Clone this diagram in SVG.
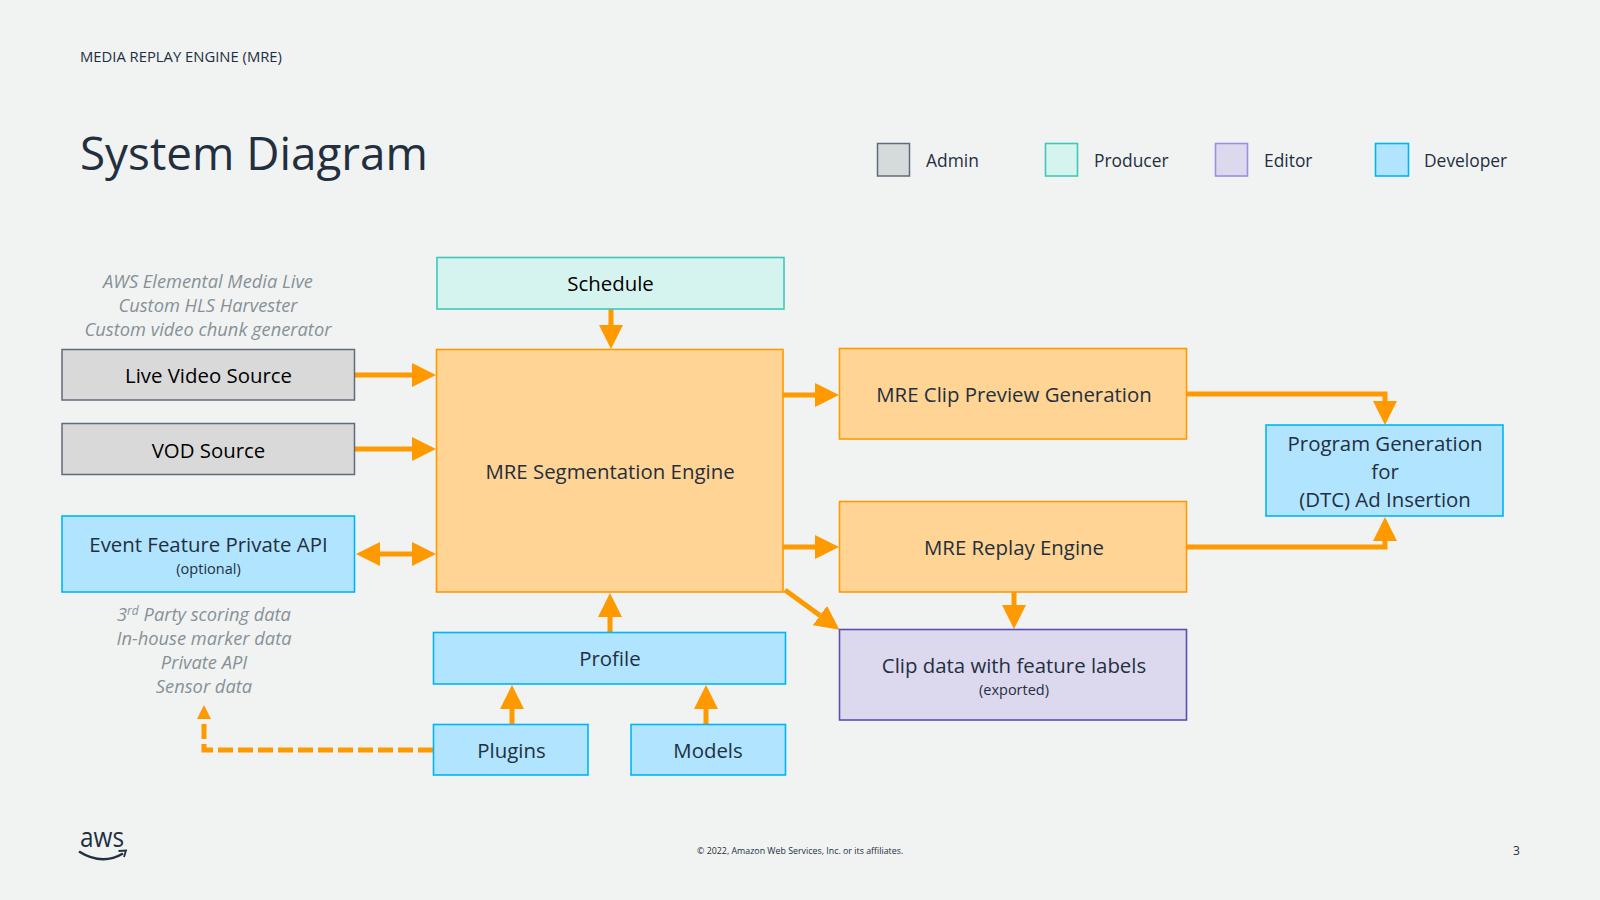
<svg xmlns="http://www.w3.org/2000/svg" width="1600" height="900" viewBox="0 0 1600 900">
<style>
text{font-family:"Open Sans","Noto Sans","Liberation Sans",sans-serif;fill:#232F3E}
.c{text-anchor:middle}
.l{font-size:20.400px}
.k{fill:#000}
.s{font-size:14.500px}
.n{font-size:18.300px;font-style:italic;fill:#879196}
.lg{font-size:17.400px}
.o{fill:#FFD494;stroke:#FF9900;stroke-width:1.600}
.b{fill:#B0E4FF;stroke:#00B5F5;stroke-width:1.600}
.t{fill:#D5F4EF;stroke:#3FC8B8;stroke-width:1.600}
.p{fill:#DCD9EF;stroke:#5A4FB0;stroke-width:1.600}
.g{fill:#D9D9D9;stroke:#5F6B7A;stroke-width:1.500}
.lgg{fill:#D5DBDB;stroke:#5F6B7A;stroke-width:1.500}
.lgp{fill:#DCD9EF;stroke:#9D8FDC;stroke-width:1.600}
.a{fill:none;stroke:#FF9900;stroke-width:5;marker-end:url(#h)}
</style>
<defs>
<marker id="h" markerUnits="userSpaceOnUse" markerWidth="24" markerHeight="26" refX="0" refY="13" orient="auto-start-reverse"><path d="M0 1 L24 13 L0 25 Z" fill="#FF9900"/></marker>
<marker id="hs" markerUnits="userSpaceOnUse" markerWidth="14" markerHeight="16" refX="0" refY="8" orient="auto"><path d="M0 1 L14 8 L0 15 Z" fill="#FF9900"/></marker>
</defs>
<rect width="1600" height="900" fill="#F1F3F3"/>
<text x="80" y="62" font-size="14.800">MEDIA REPLAY ENGINE (MRE)</text>
<text x="80" y="170" font-size="45.800">System Diagram</text>
<g id="legend">
<rect class="lgg" x="877.500" y="143.500" width="32" height="32.500"/><text class="lg" x="926" y="167">Admin</text>
<rect class="t" x="1045.500" y="143.500" width="32" height="32.500"/><text class="lg" x="1094" y="167">Producer</text>
<rect class="lgp" x="1215.500" y="143.500" width="32" height="32.500"/><text class="lg" x="1264" y="167">Editor</text>
<rect class="b" x="1375.500" y="143.500" width="33" height="32.500"/><text class="lg" x="1424" y="167">Developer</text>
</g>
<g id="notes">
<text class="n c" x="208" y="287.500">AWS Elemental Media Live</text>
<text class="n c" x="208" y="311.500">Custom HLS Harvester</text>
<text class="n c" x="208" y="335.500">Custom video chunk generator</text>
<text class="n c" x="204" y="620.500">3<tspan font-size="12" dy="-6">rd</tspan><tspan dy="6"> Party scoring data</tspan></text>
<text class="n c" x="204" y="644.500">In-house marker data</text>
<text class="n c" x="204" y="668.500">Private API</text>
<text class="n c" x="204" y="692.500">Sensor data</text>
</g>
<g id="connectors">
<path class="a" d="M355 375H412"/>
<path class="a" d="M355 449H412"/>
<path class="a" d="M380 554H412" style="marker-start:url(#h)"/>
<path class="a" d="M611 309V325"/>
<path class="a" d="M783 395H815"/>
<path class="a" d="M783 547H815"/>
<path class="a" d="M785 590L820 615.500"/>
<path class="a" d="M1014 592V605"/>
<path class="a" d="M610 632V617"/>
<path class="a" d="M512 724V709"/>
<path class="a" d="M706 724V709"/>
<path class="a" d="M1187 394H1385V401"/>
<path class="a" d="M1187 547H1385V541"/>
<path d="M433 750H204V719" fill="none" stroke="#FF9900" stroke-width="5" stroke-dasharray="15 5" marker-end="url(#hs)"/>
</g>
<g id="live"><rect class="g" x="62" y="349.500" width="292.500" height="50.500"/><text class="l c k" x="208.500" y="383">Live Video Source</text></g>
<g id="vod"><rect class="g" x="62" y="423.500" width="292.500" height="51"/><text class="l c k" x="208.500" y="458">VOD Source</text></g>
<g id="event"><rect class="b" x="62" y="516" width="292.500" height="76"/><text class="l c" x="208.500" y="552">Event Feature Private API</text><text class="s c" x="208.500" y="574">(optional)</text></g>
<g id="schedule"><rect class="t" x="437" y="257.500" width="347" height="51.500"/><text class="l c k" x="610.500" y="291">Schedule</text></g>
<g id="segmentation"><rect class="o" x="436.500" y="349.500" width="346.500" height="242.500"/><text class="l c" x="610" y="479">MRE Segmentation Engine</text></g>
<g id="preview"><rect class="o" x="839.500" y="348.500" width="347" height="90.500"/><text class="l c" x="1014" y="402">MRE Clip Preview Generation</text></g>
<g id="replay"><rect class="o" x="839.500" y="501.500" width="347" height="90.500"/><text class="l c" x="1014" y="555">MRE Replay Engine</text></g>
<g id="clipdata"><rect class="p" x="839.500" y="629.500" width="347" height="90.500"/><text class="l c" x="1014" y="673">Clip data with feature labels</text><text class="s c" x="1014" y="695">(exported)</text></g>
<g id="profile"><rect class="b" x="433.500" y="632.500" width="352" height="51.500"/><text class="l c" x="610" y="666">Profile</text></g>
<g id="plugins"><rect class="b" x="433.500" y="724.500" width="154.500" height="50.500"/><text class="l c" x="511.500" y="758">Plugins</text></g>
<g id="models"><rect class="b" x="631" y="724.500" width="154.500" height="50.500"/><text class="l c" x="708" y="758">Models</text></g>
<g id="program"><rect class="b" x="1266" y="425" width="237" height="91"/><text class="l c" x="1385" y="451">Program Generation</text><text class="l c" x="1385" y="479">for</text><text class="l c" x="1385" y="507">(DTC) Ad Insertion</text></g>
<g id="footer">
<text x="80" y="847" font-size="26.500" font-weight="500" textLength="44" lengthAdjust="spacingAndGlyphs">aws</text>
<path d="M79 851.500Q102 866 123 853.500" fill="none" stroke="#232F3E" stroke-width="2.500"/>
<path d="M118.500 851L126 850.500L124 857" fill="none" stroke="#232F3E" stroke-width="1.800"/>
<text x="697" y="854" font-size="8.850">© 2022, Amazon Web Services, Inc. or its affiliates.</text>
<text x="1513" y="855" font-size="12">3</text>
</g>
</svg>
